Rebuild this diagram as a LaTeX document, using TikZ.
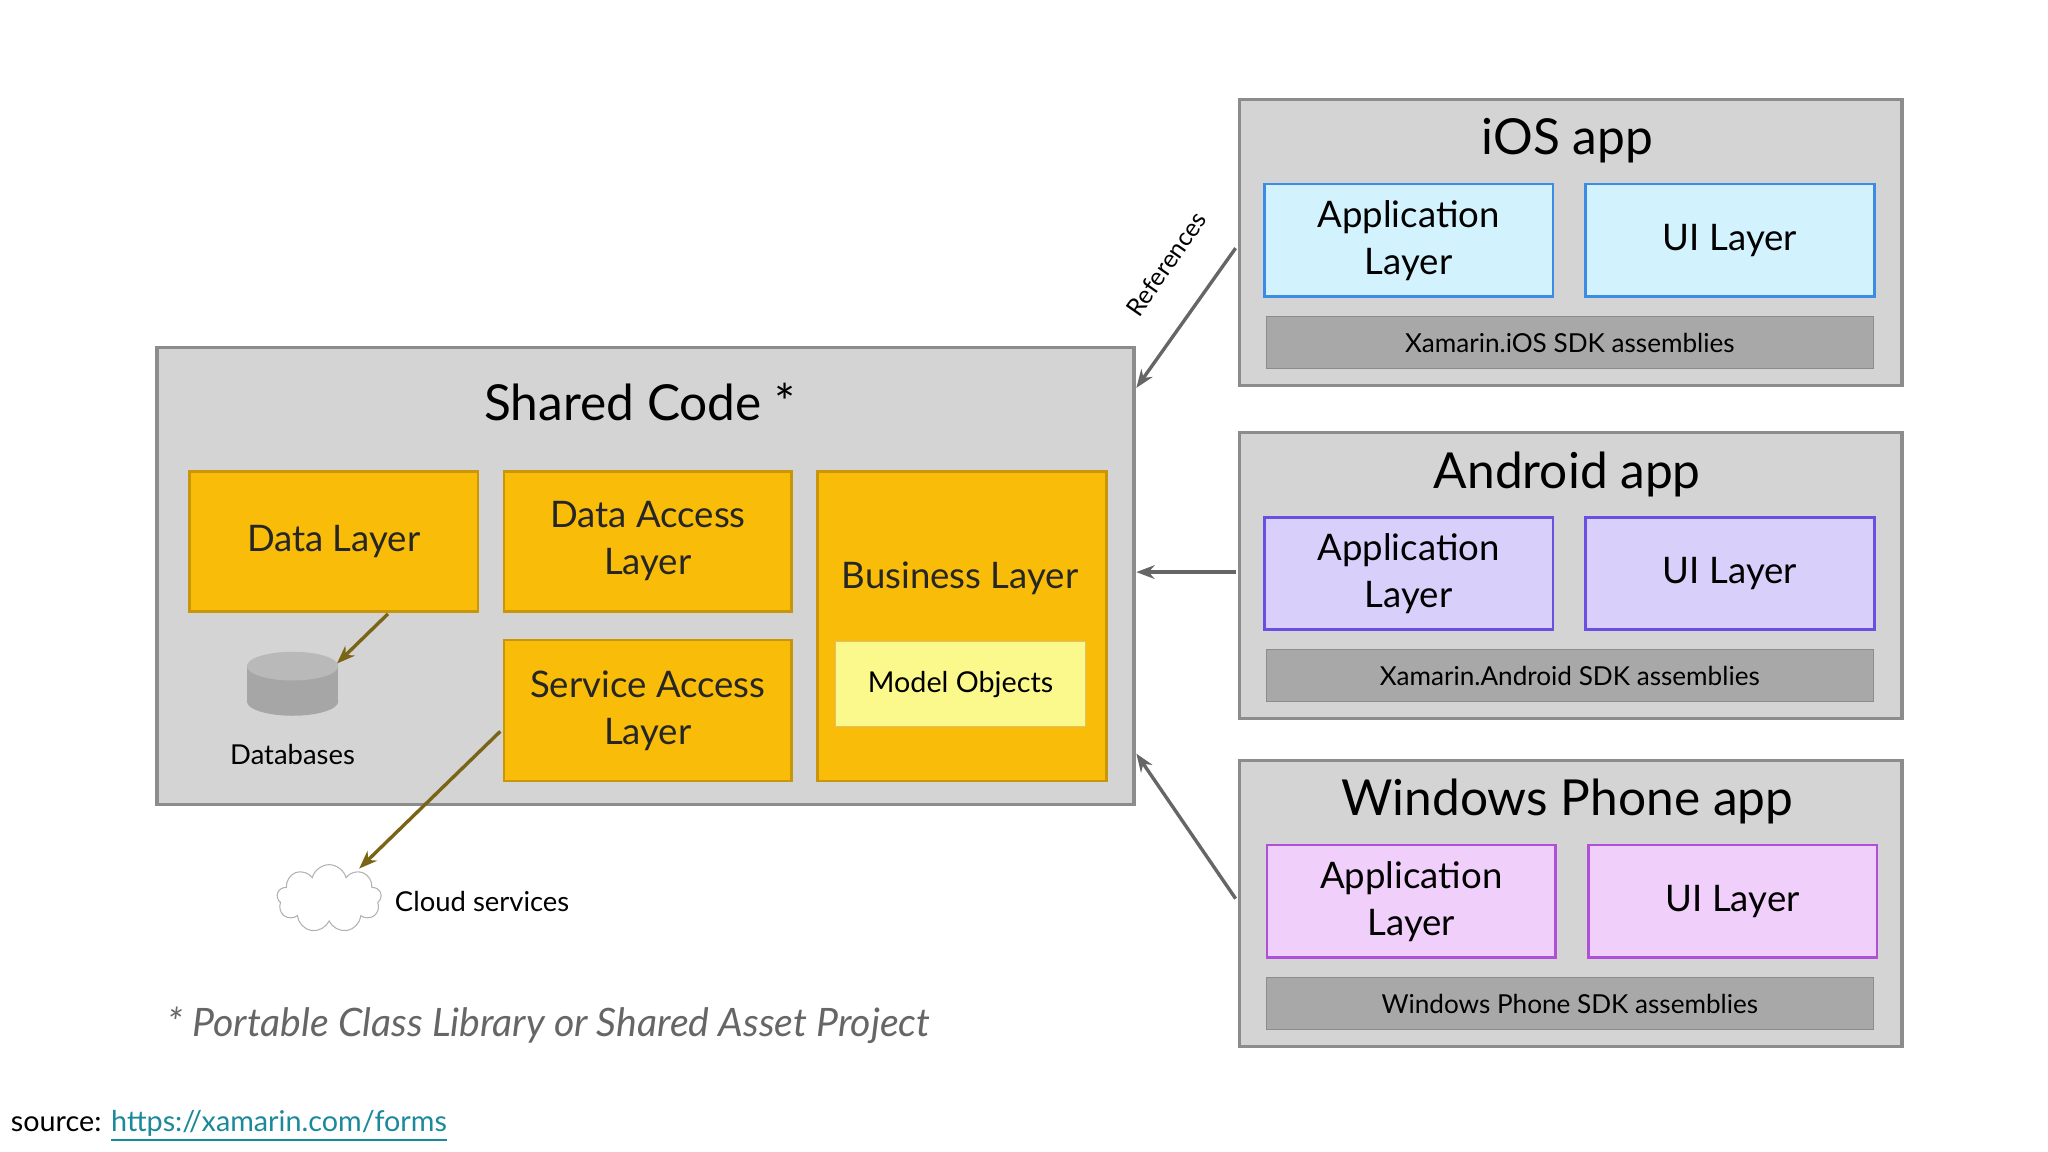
\documentclass[tikz,border=0pt]{standalone}
\usepackage{fontspec}
\setmainfont{Lato}
\usetikzlibrary{shapes.geometric,shapes.symbols,arrows.meta}
\definecolor{panel}{HTML}{D4D4D4}
\definecolor{pborder}{HTML}{8C8C8C}
\definecolor{orng}{HTML}{F9BC08}
\definecolor{orngb}{HTML}{C9960A}
\definecolor{myel}{HTML}{FCF98C}
\definecolor{olive}{HTML}{7A6415}
\definecolor{bar}{HTML}{A8A8A8}
\definecolor{iosf}{HTML}{D2F3FD}\definecolor{iosb}{HTML}{3C8CE6}
\definecolor{andf}{HTML}{D8D0FB}\definecolor{andb}{HTML}{6A4FE0}
\definecolor{winf}{HTML}{F1CFFB}\definecolor{winb}{HTML}{B04FD8}
\definecolor{linkc}{HTML}{1A8A9A}
\begin{document}
\begin{tikzpicture}[x=0.5pt,y=-0.5pt,inner sep=0pt,
 panel/.style={draw=pborder,line width=1.2pt,fill=panel},
 layer/.style={draw=orngb,line width=1pt,fill=orng,align=center,font=\fontsize{14}{18}\selectfont,text=black!85},
 sub/.style={line width=1pt,align=center,font=\fontsize{14}{18}\selectfont},
 sdk/.style={draw=pborder,fill=bar,font=\fontsize{10}{12}\selectfont},
 ttl/.style={font=\fontsize{19}{22}\selectfont},
 ref/.style={draw=black!60,line width=1.3pt,-{Stealth[length=7pt]}},
 dl/.style={draw=olive,line width=1.3pt,-{Stealth[length=7pt]}}]
\useasboundingbox (0,0) rectangle (1568,882);
% shared code
\node[panel,minimum width=374pt,minimum height=175pt,anchor=north west] (shared) at (119,265) {};
\node[ttl] (sct) at (490,308) {Shared Code *};
\node[layer,minimum width=110.5pt,minimum height=53.5pt,anchor=north west] (data) at (144,360) {Data Layer};
\node[layer,minimum width=110pt,minimum height=53.5pt,anchor=north west] (dal) at (385,360) {Data Access\\Layer};
\node[layer,minimum width=110pt,minimum height=54pt,anchor=north west] (sal) at (385,489) {Service Access\\Layer};
\node[layer,minimum width=110.5pt,minimum height=118.5pt,anchor=north west] (bus) at (625,360) {};
\node[font=\fontsize{14}{17}\selectfont,text=black!85] (bust) at (735,443) {Business Layer};
\node[draw=orngb!60,fill=myel,minimum width=96pt,minimum height=32.5pt,anchor=north west,font=\fontsize{11}{13}\selectfont] (mo) at (639,491) {Model Objects};
% database cylinder
\fill[gray!70] (189,510) rectangle (259,537);
\fill[gray!70] (224,537) ellipse [x radius=35, y radius=11];
\fill[gray!55] (224,510) ellipse [x radius=35, y radius=11];
\node[minimum width=35pt,minimum height=25pt] (db) at (224,522) {};
\node[font=\fontsize{10.5}{12}\selectfont] (dbt) at (224,578) {Databases};
\node[cloud,cloud puffs=9,aspect=1.6,draw=gray!60,fill=white,minimum width=40pt,minimum height=26pt] (cl) at (252,688) {};
\node[font=\fontsize{10.5}{12}\selectfont,anchor=west] (clt) at (302,690) {Cloud services};
\coordinate (d1) at (297,470); \coordinate (s1) at (383,560);
\draw[dl] (d1) -- (258,508);
\draw[dl] (s1) -- (275,665);
\node[font=\fontsize{15}{18}\selectfont\itshape,text=black!60,anchor=west] (fn) at (128,785) {* Portable Class Library or Shared Asset Project};
\node[font=\fontsize{11}{13}\selectfont,anchor=west] (src) at (8,862) {source: \textcolor{linkc}{\underline{https://xamarin.com/forms}}};
% apps
\foreach \n/\y/\t/\f/\b/\s/\ox in {ios/75/iOS app/iosf/iosb/Xamarin.iOS SDK assemblies/0, and/330/Android app/andf/andb/Xamarin.Android SDK assemblies/0, win/581/Windows Phone app/winf/winb/Windows Phone SDK assemblies/2}{
 \node[panel,minimum width=253.5pt,minimum height=109.5pt,anchor=north west] (\n) at (948,\y) {};
 \node[ttl] (\n t) at (1200,\y+33) {\t};
 \node[sub,draw=\b,fill=\f,minimum width=110.5pt,minimum height=43pt,anchor=north west] (\n a) at (967+\ox,\y+65) {Application\\Layer};
 \node[sub,draw=\b,fill=\f,minimum width=110.5pt,minimum height=43pt,anchor=north west] (\n u) at (1213+\ox,\y+65) {UI Layer};
 \node[sdk,minimum width=232.5pt,minimum height=20pt,anchor=north west] (\n s) at (969,\y+167) {\s};
}
\coordinate (r1) at (946,190); \coordinate (r1e) at (870,297);
\draw[ref] (r1) -- (r1e);
\node[rotate=55,font=\fontsize{9.5}{11}\selectfont] (reft) at (893,202) {References};
\draw[ref] (946,438) -- (870,438);
\draw[ref] (946,688) -- (870,577);
\end{tikzpicture}
\end{document}
